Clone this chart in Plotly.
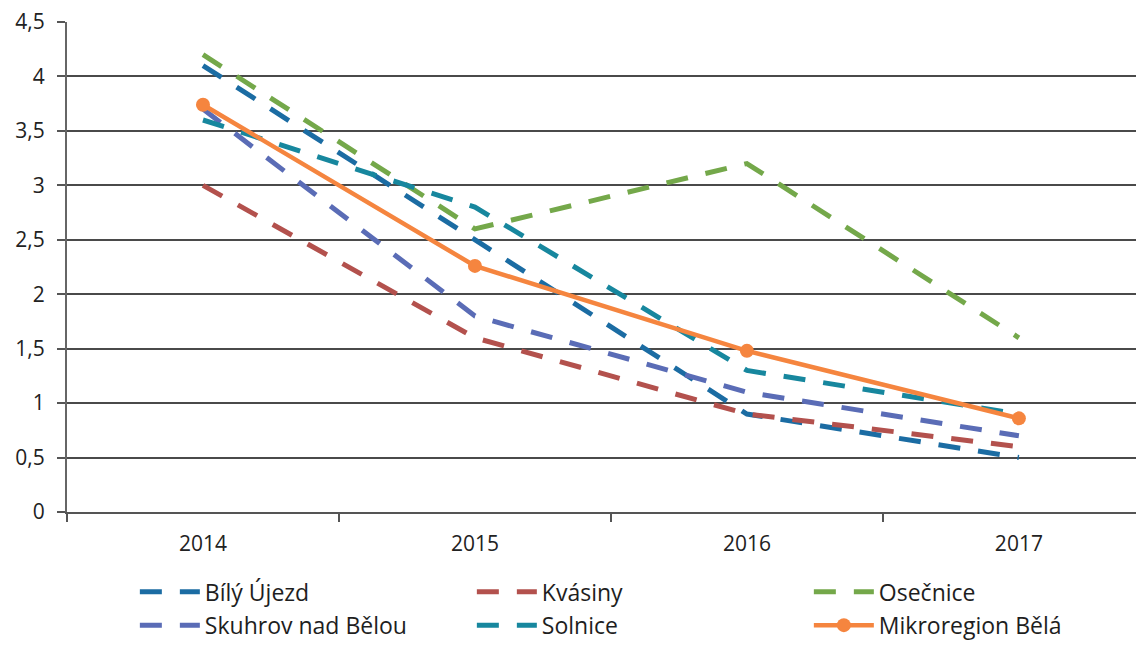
import plotly.graph_objects as go

years = ["2014", "2015", "2016", "2017"]
bily_ujezd = [4.1, 2.5, 0.9, 0.5]
kvasiny = [3.0, 1.6, 0.9, 0.6]
osecnice = [4.2, 2.6, 3.2, 1.6]
skuhrov = [3.7, 1.8, 1.1, 0.7]
solnice = [3.6, 2.8, 1.3, 0.9]
mikroregion = [3.74, 2.26, 1.48, 0.86]

# name, values, colour, solid?, legend row
series = [
    ("Bílý Újezd", bily_ujezd, "#1B6CA3", False, "legend"),
    ("Kvásiny", kvasiny, "#B3514D", False, "legend"),
    ("Osečnice", osecnice, "#74A84A", False, "legend"),
    ("Skuhrov nad Bělou", skuhrov, "#5A6CB6", False, "legend2"),
    ("Solnice", solnice, "#17879E", False, "legend2"),
    ("Mikroregion Bělá", mikroregion, "#F5853F", True, "legend2"),
]

FONT = "Open Sans, Lato, sans-serif"

fig = go.Figure()
for name, vals, color, solid, leg in series:
    if solid:
        fig.add_trace(go.Scatter(
            x=years, y=vals, name=name, mode="lines+markers", legend=leg,
            line=dict(color=color, width=4.5),
            marker=dict(color=color, size=14, symbol="circle"),
        ))
    else:
        fig.add_trace(go.Scatter(
            x=years, y=vals, name=name, mode="lines", legend=leg,
            line=dict(color=color, width=5, dash="22px,18px"),
        ))

leg_common = dict(
    orientation="h", x=0.063, xanchor="left", yanchor="middle",
    entrywidth=262, entrywidthmode="pixels",
    font=dict(size=23, color="#1e1e1e", family=FONT),
    itemwidth=60, bgcolor="rgba(0,0,0,0)",
)

fig.update_layout(
    width=1136, height=637,
    margin=dict(l=59, r=0, t=14, b=133, autoexpand=False),
    paper_bgcolor="white", plot_bgcolor="white",
    separators=", ",
    font=dict(family=FONT, size=21, color="#222222"),
    showlegend=True,
    legend=dict(y=-0.163, **leg_common),
    legend2=dict(y=-0.231, **leg_common),
)
fig.update_xaxes(
    type="category", range=[-0.5, 3.46],
    showline=True, linecolor="#555", linewidth=2,
    ticks="outside", tickson="boundaries", ticklen=8, tickcolor="#555", tickwidth=2,
    showgrid=False, tickfont=dict(size=21, family=FONT), ticklabelstandoff=12,
)
fig.update_yaxes(
    range=[0, 4.5], dtick=0.5, tick0=0,
    showline=True, linecolor="#666", linewidth=2,
    ticks="outside", ticklen=8, tickcolor="#555", tickwidth=2,
    showgrid=True, gridcolor="#4a4a4a", gridwidth=2,
    zeroline=False, tickfont=dict(size=21, family=FONT), ticklabelstandoff=8,
    ticklabeloverflow="allow",
)

fig.write_html("out.html")
